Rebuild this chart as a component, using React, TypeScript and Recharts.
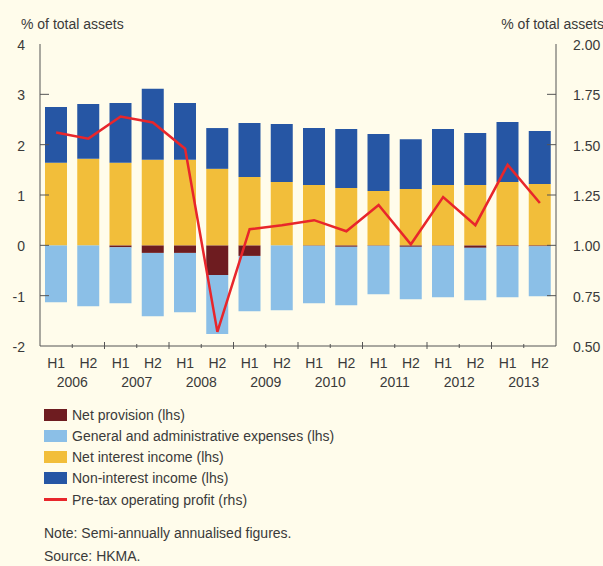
import { ComposedChart, Bar, Line, XAxis, YAxis } from 'recharts'

const years = ['2006', '2007', '2008', '2009', '2010', '2011', '2012', '2013']
const halves = ['H1', 'H2']

const netProvision = [0, 0, -0.04, -0.15, -0.15, -0.59, -0.21, 0, -0.01, -0.03, -0.01, -0.03, -0.01, -0.05, -0.02, -0.02]
const adminExpenses = [-1.13, -1.21, -1.11, -1.26, -1.18, -1.17, -1.1, -1.29, -1.14, -1.16, -0.96, -1.04, -1.02, -1.04, -1.01, -0.99]
const netInterest = [1.64, 1.72, 1.64, 1.7, 1.7, 1.52, 1.36, 1.26, 1.2, 1.14, 1.08, 1.12, 1.2, 1.2, 1.26, 1.22]
const nonInterest = [1.11, 1.09, 1.19, 1.41, 1.13, 0.81, 1.07, 1.15, 1.13, 1.17, 1.13, 0.99, 1.11, 1.03, 1.19, 1.05]
const preTaxProfit = [1.56, 1.53, 1.64, 1.61, 1.48, 0.57, 1.08, 1.1, 1.125, 1.07, 1.2, 1.005, 1.24, 1.1, 1.4, 1.21]

const leftTicks = [-2, -1, 0, 1, 2, 3, 4]
const rightTicks = [0.5, 0.75, 1, 1.25, 1.5, 1.75, 2]

const data = netProvision.map((_, i) => ({
  period: `${years[Math.floor(i / 2)]} ${halves[i % 2]}`,
  half: halves[i % 2],
  year: years[Math.floor(i / 2)],
  provision: netProvision[i],
  admin: adminExpenses[i],
  nii: netInterest[i],
  nonii: nonInterest[i],
  profit: preTaxProfit[i],
}))

const TEXT = '#3a3a3a'
const AXIS = '#555'
const FONT = '"Liberation Sans", Arial, sans-serif'
const W = 603
const LEFT_W = 40
const RIGHT_W = 47
const HALF_BAND = (W - LEFT_W - RIGHT_W) / data.length / 2

const colors = {
  provision: '#6e1c20',
  admin: '#8bbfe7',
  nii: '#f2be3a',
  nonii: '#2656a4',
  profit: '#e8262b',
}

const XTick = (props: any) => {
  const { x, y, index } = props
  const d = data[index]
  if (!d) return null
  const bx = x - HALF_BAND
  return (
    <g>
      {index > 0 && (
        index % 2 === 0
          ? <line x1={bx} x2={bx} y1={y - 4} y2={y + 3} stroke={AXIS} />
          : <line x1={bx} x2={bx} y1={y - 2} y2={y + 2} stroke={AXIS} />
      )}
      <text x={x} y={y + 22} textAnchor="middle" fill={TEXT} fontSize={14} fontFamily={FONT}>{d.half}</text>
      {index % 2 === 1 && (
        <text x={bx} y={y + 41} textAnchor="middle" fill={TEXT} fontSize={14} fontFamily={FONT}>{d.year}</text>
      )}
    </g>
  )
}

const LeftTick = (props: any) => {
  const { x, y, payload } = props
  return (
    <g>
      {payload.value > -2 && payload.value < 4 && <line x1={x} x2={x + 9} y1={y} y2={y} stroke={AXIS} />}
      <text x={x - 15} y={y + 6} textAnchor="end" fill={TEXT} fontSize={14} fontFamily={FONT}>{payload.value}</text>
    </g>
  )
}

const RightTick = (props: any) => {
  const { x, y, payload } = props
  return (
    <g>
      {payload.value > 0.5 && payload.value < 2 && <line x1={x - 9} x2={x} y1={y} y2={y} stroke={AXIS} />}
      <text x={x + 17} y={y + 6} textAnchor="start" fill={TEXT} fontSize={14} fontFamily={FONT}>{payload.value.toFixed(2)}</text>
    </g>
  )
}

const legendItems = [
  { label: 'Net provision (lhs)', color: colors.provision, line: false },
  { label: 'General and administrative expenses (lhs)', color: colors.admin, line: false },
  { label: 'Net interest income (lhs)', color: colors.nii, line: false },
  { label: 'Non-interest income (lhs)', color: colors.nonii, line: false },
  { label: 'Pre-tax operating profit (rhs)', color: colors.profit, line: true },
]

export default function App() {
  return (
    <div style={{ position: 'absolute', left: 0, top: 0, width: W, height: 566, background: '#fffceb', fontFamily: FONT, color: TEXT, overflow: 'hidden' }}>
      <div style={{ position: 'absolute', left: 21, top: 16, fontSize: 14, lineHeight: '16px' }}>% of total assets</div>
      <div style={{ position: 'absolute', right: -1, top: 16, fontSize: 14, lineHeight: '16px' }}>% of total assets</div>
      <div style={{ position: 'absolute', left: 0, top: 0 }}>
        <ComposedChart width={W} height={400} data={data} stackOffset="sign"
          margin={{ top: 44, right: 0, left: 0, bottom: 0 }}>
          <XAxis dataKey="period" height={54} tickSize={0} tickMargin={0} tickLine={false}
            axisLine={{ stroke: AXIS }} tick={<XTick />} interval={0} />
          <YAxis yAxisId="left" width={LEFT_W} domain={[-2, 4]} ticks={leftTicks} tickSize={0} tickMargin={0}
            tickLine={false} axisLine={{ stroke: AXIS }} tick={<LeftTick />} />
          <YAxis yAxisId="right" orientation="right" width={RIGHT_W} domain={[0.5, 2]} ticks={rightTicks}
            tickSize={0} tickMargin={0} tickLine={false} axisLine={{ stroke: AXIS }} tick={<RightTick />} />
          <Bar yAxisId="left" dataKey="provision" stackId="a" fill={colors.provision} barSize={22} isAnimationActive={false} />
          <Bar yAxisId="left" dataKey="admin" stackId="a" fill={colors.admin} barSize={22} isAnimationActive={false} />
          <Bar yAxisId="left" dataKey="nii" stackId="a" fill={colors.nii} barSize={22} isAnimationActive={false} />
          <Bar yAxisId="left" dataKey="nonii" stackId="a" fill={colors.nonii} barSize={22} isAnimationActive={false} />
          <Line yAxisId="right" dataKey="profit" type="linear" stroke={colors.profit} strokeWidth={2.5}
            dot={false} isAnimationActive={false} />
        </ComposedChart>
      </div>
      <div style={{ position: 'absolute', left: 44, top: 404 }}>
        {legendItems.map(item => (
          <div key={item.label} style={{ display: 'flex', alignItems: 'center', height: 21.25, fontSize: 14 }}>
            {item.line
              ? <span style={{ display: 'inline-block', width: 23, height: 2.5, background: item.color, marginRight: 5 }} />
              : <span style={{ display: 'inline-block', width: 23, height: 12, background: item.color, marginRight: 5 }} />}
            <span>{item.label}</span>
          </div>
        ))}
      </div>
      <div style={{ position: 'absolute', left: 44, top: 525, fontSize: 14, lineHeight: '16px' }}>Note: Semi-annually annualised figures.</div>
      <div style={{ position: 'absolute', left: 44, top: 548, fontSize: 14, lineHeight: '16px' }}>Source: HKMA.</div>
    </div>
  )
}
